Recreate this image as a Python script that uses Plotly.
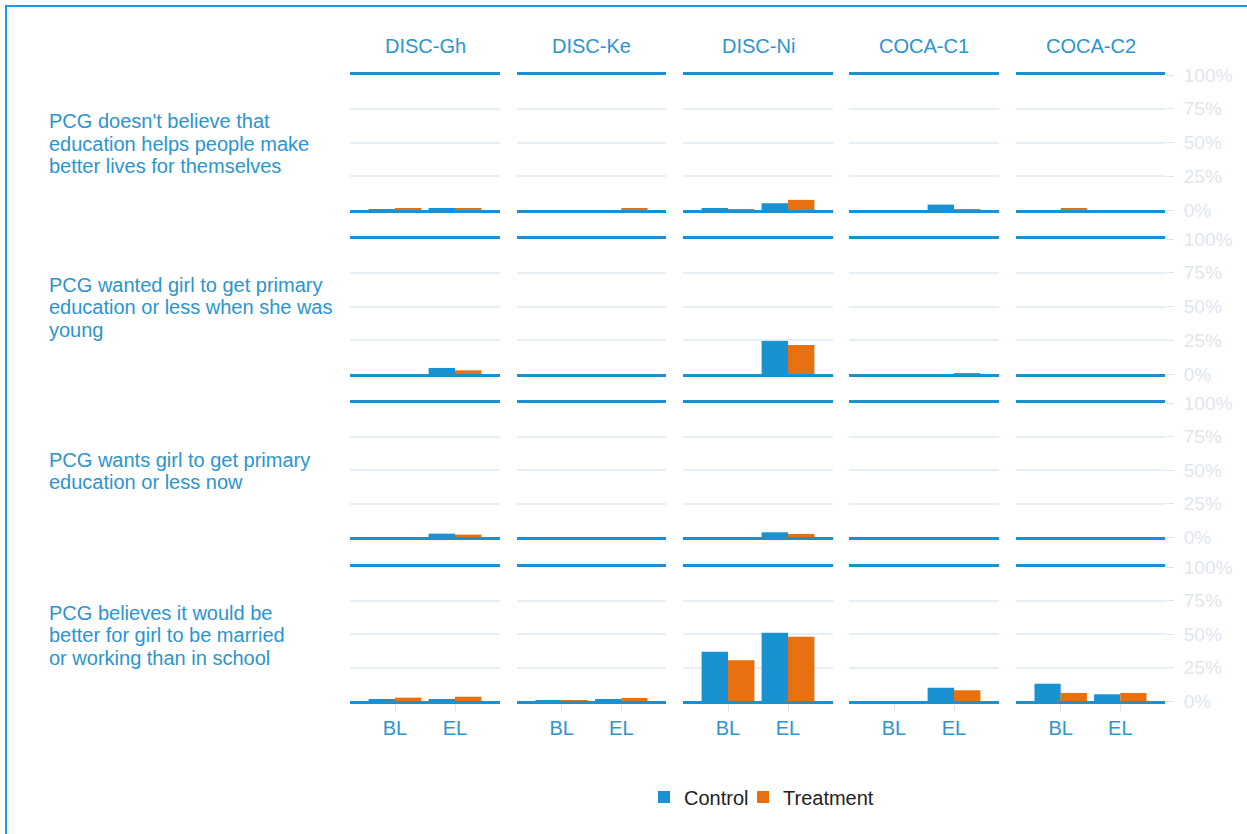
import plotly.graph_objects as go

W, H = 1247, 834

columns = ["DISC-Gh", "DISC-Ke", "DISC-Ni", "COCA-C1", "COCA-C2"]
rounds = ["BL", "EL"]
tick_values = [0, 25, 50, 75, 100]
tick_labels = ["0%", "25%", "50%", "75%", "100%"]
questions = [
    "PCG doesn't believe that<br>education helps people make<br>better lives for themselves",
    "PCG wanted girl to get primary<br>education or less when she was<br>young",
    "PCG wants girl to get primary<br>education or less now",
    "PCG believes it would be<br>better for girl to be married<br>or working than in school",
]

# values in % : per column [BL, EL]
control_q1 = [[0.5, 1.5], [0, 0], [0.8, 5.0], [0, 4.0], [0, 0]]
treatment_q1 = [[1.0, 1.0], [0, 1.5], [0.7, 7.5], [0, 0.5], [1.5, 0]]
control_q2 = [[0, 4.5], [0, 0], [0, 24.5], [0, 0], [0, 0]]
treatment_q2 = [[0, 2.7], [0, 0], [0, 21.5], [0, 0.5], [0, 0]]
control_q3 = [[0, 2.5], [0, 0], [0, 3.5], [0, 0], [0, 0]]
treatment_q3 = [[0, 1.8], [0, 0], [0, 2.3], [0, 0], [0, 0]]
control_q4 = [[1.5, 1.5], [0.3, 1.0], [36.8, 51.0], [0, 9.9], [12.9, 5.0]]
treatment_q4 = [[2.5, 3.2], [0.3, 2.3], [30.4, 48.0], [0, 8.0], [6.0, 6.0]]

control_all = [control_q1, control_q2, control_q3, control_q4]
treatment_all = [treatment_q1, treatment_q2, treatment_q3, treatment_q4]

BLUE = "#1a91d1"
ORANGE = "#e8700e"
TEXT_BLUE = "#2b95d0"
GRID = "#e6eef6"
TICKLBL = "#dfe6ed"
FONT = "Liberation Sans, Arial, sans-serif"

col_px = [(350, 500), (517, 666), (683, 833), (849, 999), (1016, 1165)]
row_px = [(75, 210), (239, 374), (403, 537), (567, 701)]


def px_x(x):
    return x / W


def px_y(y):
    return 1 - y / H


fig = go.Figure()
layout = dict()
annotations = []

for r in range(4):
    for c in range(5):
        idx = r * 5 + c + 1
        xa = "x" if idx == 1 else f"x{idx}"
        ya = "y" if idx == 1 else f"y{idx}"
        fig.add_trace(go.Bar(
            x=rounds, y=control_all[r][c], name="Control",
            marker=dict(color=BLUE, line=dict(width=0)),
            legendgroup="Control", showlegend=(idx == 1), legend="legend",
            xaxis=xa, yaxis=ya,
        ))
        fig.add_trace(go.Bar(
            x=rounds, y=treatment_all[r][c], name="Treatment",
            marker=dict(color=ORANGE, line=dict(width=0)),
            legendgroup="Treatment", showlegend=(idx == 1), legend="legend2",
            xaxis=xa, yaxis=ya,
        ))
        x0, x1 = col_px[c]
        y0, y1 = row_px[r]
        xkey = "xaxis" if idx == 1 else f"xaxis{idx}"
        ykey = "yaxis" if idx == 1 else f"yaxis{idx}"
        last_row = r == 3
        last_col = c == 4
        layout[xkey] = dict(
            domain=[px_x(x0), px_x(x1)], anchor=ya,
            type="category", categoryorder="array", categoryarray=rounds,
            range=[-0.75, 1.75],
            showline=True, linecolor=BLUE, linewidth=3, mirror=True,
            showgrid=False, zeroline=False,
            showticklabels=last_row,
            ticks="outside" if last_row else "", ticklen=7, tickcolor="#d9e4ee", tickwidth=1,
            tickfont=dict(size=20, color=TEXT_BLUE, family=FONT),
            fixedrange=True,
        )
        layout[ykey] = dict(
            domain=[px_y(y1), px_y(y0)], anchor=xa,
            range=[0, 100], tickvals=tick_values, ticktext=tick_labels,
            showgrid=True, gridcolor=GRID, gridwidth=1.5,
            zeroline=False, showline=False,
            side="right",
            showticklabels=last_col,
            ticks="outside" if last_col else "", ticklen=8, tickcolor="#dde6ee", tickwidth=1,
            ticklabelstandoff=6,
            tickfont=dict(size=19, color=TICKLBL, family=FONT),
            fixedrange=True,
        )

for c, name in enumerate(columns):
    x0, x1 = col_px[c]
    annotations.append(dict(
        x=px_x((x0 + x1) / 2), y=px_y(46), xref="paper", yref="paper",
        text=name, showarrow=False, xanchor="center", yanchor="middle",
        font=dict(size=20, color=TEXT_BLUE, family=FONT),
    ))

LINE_SP = 22.5
for r, q in enumerate(questions):
    y0, y1 = row_px[r]
    lines = q.split("<br>")
    n = len(lines)
    center = (y0 + y1) / 2 + 1
    for i, line in enumerate(lines):
        yy = center + (i - (n - 1) / 2) * LINE_SP
        annotations.append(dict(
            x=px_x(47), y=px_y(yy), xref="paper", yref="paper",
            text=line, showarrow=False, xanchor="left", yanchor="middle", align="left",
            font=dict(size=20, color=TEXT_BLUE, family=FONT),
        ))

legend_style = dict(
    orientation="h", yanchor="middle", xanchor="left",
    font=dict(size=20, color="#222222", family=FONT),
    bgcolor="rgba(0,0,0,0)", borderwidth=0,
)

fig.update_layout(
    width=W, height=H, autosize=False,
    margin=dict(l=0, r=0, t=0, b=0, autoexpand=False),
    paper_bgcolor="white", plot_bgcolor="white",
    barmode="group", bargap=0.12, bargroupgap=0,
    showlegend=True,
    legend=dict(x=px_x(644), y=px_y(797), **legend_style),
    legend2=dict(x=px_x(743), y=px_y(797), **legend_style),
    annotations=annotations,
    shapes=[dict(
        type="rect", xref="paper", yref="paper",
        x0=px_x(6), x1=1.05, y0=-0.05, y1=px_y(6),
        line=dict(color="#1a9ae0", width=2), fillcolor="rgba(0,0,0,0)", layer="above",
    )],
    **layout,
)

fig.write_html(
    "out.html",
    config={"responsive": False, "displayModeBar": False},
    post_script="document.body.style.margin='0';document.body.style.padding='0';document.body.style.overflow='hidden';",
)
